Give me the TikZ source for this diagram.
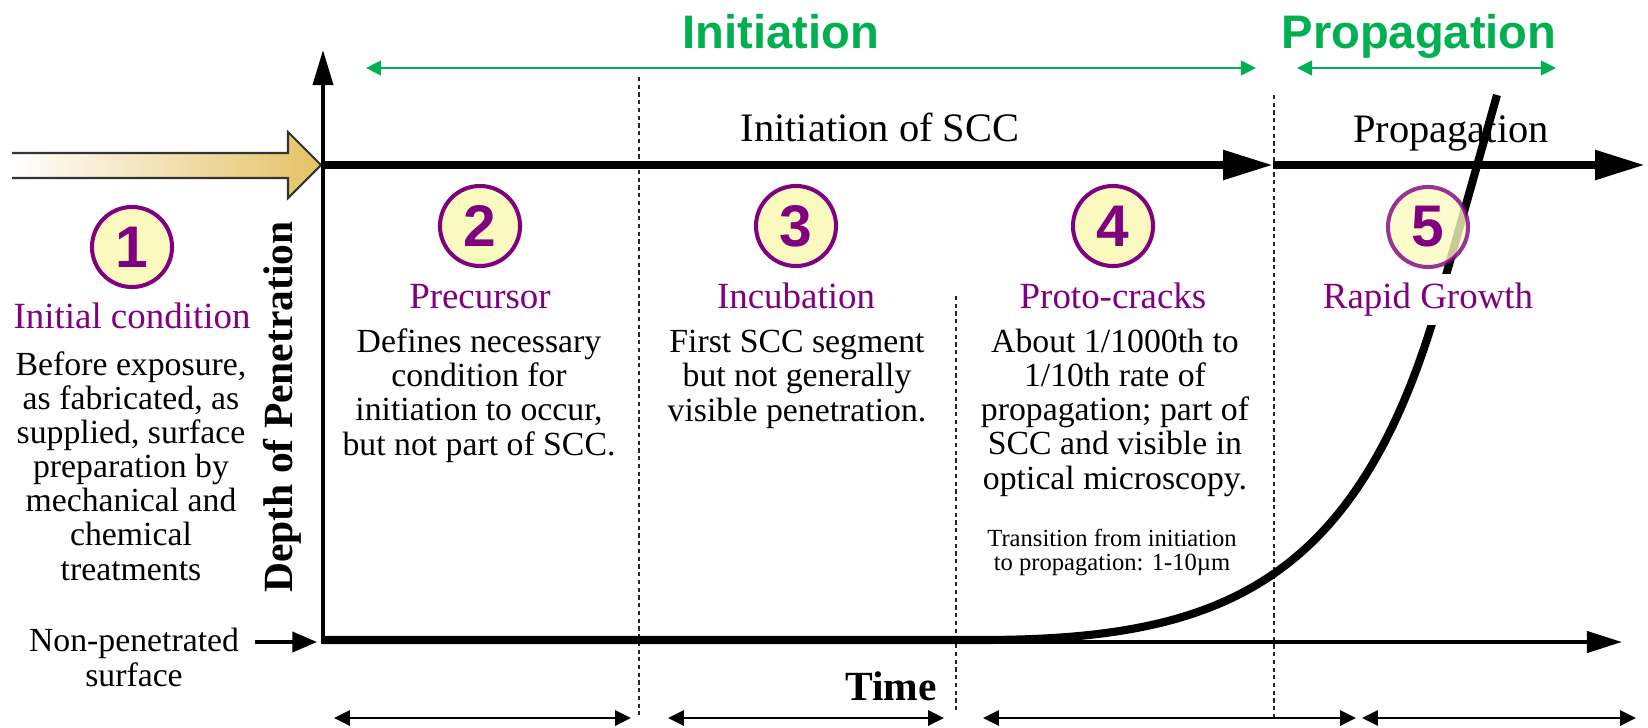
\documentclass[tikz,border=0pt]{standalone}
\usepackage{fontspec}
\setmainfont{Liberation Serif}
\setsansfont{Liberation Sans}
\usepackage{tikz}
\usetikzlibrary{positioning,arrows.meta}
\definecolor{phasepurple}{RGB}{128,0,128}
\definecolor{circfill}{RGB}{250,250,190}
\definecolor{headgreen}{RGB}{0,176,80}
\definecolor{arrowgold}{RGB}{228,194,100}
\newcommand{\fsz}[2]{\fontsize{#1}{#2}\selectfont}

\begin{document}
\begin{tikzpicture}[x=0.01cm, y=-0.01cm,
  numcirc/.style={circle, draw=phasepurple, line width=1.15pt, fill=circfill, minimum size=0.8cm, inner sep=0pt, text=phasepurple, font=\sffamily\bfseries\fsz{16.7}{17}},
  phase/.style={anchor=base, inner sep=0pt, text=phasepurple, font=\fsz{10.5}{12}},
  blurb/.style={anchor=base, inner sep=0pt, align=center, font=\fsz{9.6}{9.7}},
  header/.style={anchor=base, inner sep=0pt, text=headgreen, font=\sffamily\bfseries\fsz{13.4}{14}},
  axislabel/.style={anchor=base, inner sep=0pt, font=\fsz{11.5}{12}},
  divider/.style={black!85, line width=0.6pt, dash pattern=on 1.2pt off 1pt},
  greenspan/.style={headgreen, line width=0.55pt, {Triangle[length=4.3pt,width=4.2pt]}-{Triangle[length=4.3pt,width=4.2pt]}},
  timespan/.style={line width=0.7pt, {Triangle[length=4.5pt,width=4.3pt]}-{Triangle[length=4.5pt,width=4.3pt]}},
  ]
\useasboundingbox (0,0) rectangle (1648,727);

\coordinate (origin) at (323,644);
\coordinate (ytop) at (323,50);
\coordinate (xend) at (1622,642);
\coordinate (upstart) at (323,165);
\coordinate (split) at (1273,165);
\coordinate (upend) at (1645,165);
\coordinate (surfarrow) at (255,642);
\coordinate (surftip) at (317,642);

\shade[left color=white, right color=arrowgold] (12,153) -- (288,153) -- (288,132) -- (321,165) -- (288,198) -- (288,178) -- (12,178) -- cycle;
\draw[line width=0.6pt, black!80] (12,153) -- (288,153) -- (288,132) -- (321,165) -- (288,198) -- (288,178) -- (12,178);

\draw[divider] (639,77) -- (639,715);
\draw[divider] (956,296) -- (956,712);
\draw[divider] (1274,95) -- (1274,717);

\draw[line width=1.14pt, -{Triangle[length=10pt,width=5.7pt]}] (origin) -- (ytop);
\draw[line width=1.14pt, -{Triangle[length=10pt,width=6pt]}] (323,642) -- (xend);
\draw[line width=2.28pt, -{Triangle[length=14.2pt,width=8pt]}] (upstart) -- (split);
\draw[line width=2.28pt, -{Triangle[length=14.2pt,width=8pt]}] (split) -- (upend);
\draw[line width=1pt, -{Triangle[length=7pt,width=5.7pt]}] (surfarrow) -- (surftip);

\draw[line width=2.3pt] (323,640) -- (980,640) .. controls (1215,640) and (1357,589) .. (1439,300) -- (1497,95);

\node[header] (initHead) at (781,48) {Initiation};
\node[header] (propHead) at (1419,48) {Propagation};
\coordinate (initL) at (366,68);
\coordinate (initR) at (1256,68);
\coordinate (propL) at (1297,68);
\coordinate (propR) at (1556,68);
\draw
  (initL) edge[greenspan] (initR)
  (propL) edge[greenspan] (propR)
;

\node[axislabel] (initLbl) at (880,141) {Initiation of SCC};
\node[axislabel] (propLbl) at (1451,142) {Propagation};
\node[anchor=base, inner sep=0pt, rotate=90, font=\bfseries\fsz{11.8}{12}] (depth) at (292,407) {Depth of Penetration};
\node[anchor=base, inner sep=0pt, font=\bfseries\fsz{11.8}{12}] (time) at (891,700) {Time};
\node[blurb] (surf) at (134,686) {Non-penetrated\\surface};

\node[numcirc] (n1) at (132,247) {1};
\node[numcirc] (n2) at (480,226) {2};
\node[numcirc] (n3) at (796,226) {3};
\node[numcirc] (n4) at (1113,226) {4};
\node[numcirc, opacity=0.8, text opacity=1] (n5) at (1428,227) {5};

\node[phase] (p1) at (132,328) {Initial condition};
\node[phase] (p2) at (480,308) {Precursor};
\node[phase] (p3) at (796,308) {Incubation};
\node[phase] (p4) at (1113,308) {Proto-cracks};
\node[phase, fill=white, inner sep=2.5pt] (p5) at (1428,308) {Rapid Growth};

% multi-line blurbs sit on the baseline of their last line
\node[blurb] (b1) at (131,580) {Before exposure,\\as fabricated, as\\supplied, surface\\preparation by\\mechanical and\\chemical\\treatments};
\node[blurb] (b2) at (479,455) {Defines necessary\\condition for\\initiation to occur,\\but not part of SCC.};
\node[blurb] (b3) at (797,421) {First SCC segment\\but not generally\\visible penetration.};
\node[blurb] (b4) at (1115,489) {About 1/1000th to\\1/10th rate of\\propagation; part of\\SCC and visible in\\optical microscopy.};
\node[blurb, font=\fsz{7}{6.8}] (trans) at (1112,570) {Transition from initiation\\to propagation: 1-10µm};

\coordinate (t1L) at (334,718);
\coordinate (t1R) at (631,718);
\coordinate (t2L) at (668,718);
\coordinate (t2R) at (944,718);
\coordinate (t3L) at (983,718);
\coordinate (t3R) at (1356,718);
\coordinate (t4L) at (1362,718);
\coordinate (t4R) at (1636,718);
\draw
  (t1L) edge[timespan] (t1R)
  (t2L) edge[timespan] (t2R)
  (t3L) edge[timespan] (t3R)
  (t4L) edge[timespan] (t4R)
;
\end{tikzpicture}
\end{document}
